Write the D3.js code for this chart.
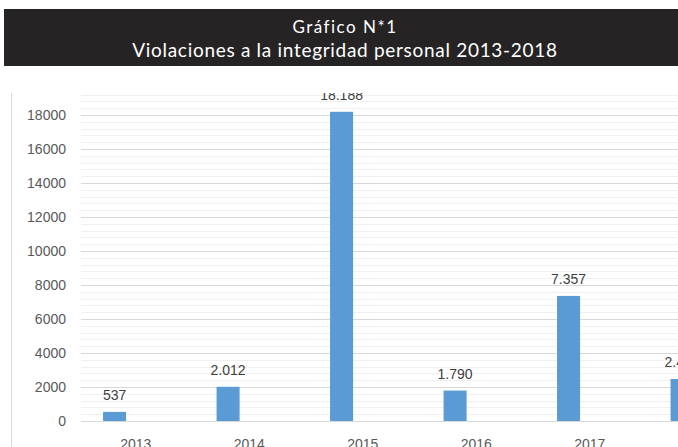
<!DOCTYPE html>
<html>
<head>
<meta charset="utf-8">
<script src="https://cdn.jsdelivr.net/npm/d3@7"></script>
<style>
  body { margin: 0; background: #fff; }
  svg { display: block; }
</style>
</head>
<body>
<div id="chart"></div>
<script>
var years = ["2013", "2014", "2015", "2016", "2017", "2018"];
var casos = [537, 2012, 18188, 1790, 7357, 2470];
var yTicks = [0, 2000, 4000, 6000, 8000, 10000, 12000, 14000, 16000, 18000];
var titleLines = ["Gráfico N*1", "Violaciones a la integridad personal 2013-2018"];

var W = 678, H = 447;
var margin = { top: 93, left: 79, bottom: 26 };

var svg = d3.select("#chart").append("svg")
  .attr("width", W)
  .attr("height", H);

// title band
svg.append("rect")
  .attr("x", 4).attr("y", 9)
  .attr("width", W - 4).attr("height", 57)
  .attr("fill", "#262324");

var tStyle = [
  { y: 33, size: 17, ls: 1.5 },
  { y: 57, size: 19, ls: 0.7 }
];
svg.selectAll(".title")
  .data(titleLines)
  .enter().append("text")
  .attr("class", "title")
  .attr("x", 345)
  .attr("y", function(d, i) { return tStyle[i].y; })
  .attr("text-anchor", "middle")
  .attr("fill", "#fff")
  .attr("font-family", "Lato, sans-serif")
  .attr("font-size", function(d, i) { return tStyle[i].size; })
  .attr("letter-spacing", function(d, i) { return tStyle[i].ls; })
  .text(function(d) { return d; });

// chart area (cropped)
svg.append("clipPath").attr("id", "clip")
  .append("rect")
  .attr("x", 0).attr("y", margin.top)
  .attr("width", W).attr("height", H - margin.top);

var g = svg.append("g").attr("clip-path", "url(#clip)");

g.append("line")
  .attr("x1", 11.5).attr("x2", 11.5)
  .attr("y1", margin.top).attr("y2", H)
  .attr("stroke", "#d9d9d9");

var x = d3.scaleBand()
  .domain(years)
  .range([margin.left, margin.left + 113.5 * years.length]);

var y = d3.scaleLinear()
  .domain([0, 18000])
  .range([421, 115]);

// minor gridlines every 400
var minor = d3.range(400, 20000, 400).filter(function(v) { return v % 2000 != 0; });
g.selectAll(".minor")
  .data(minor)
  .enter().append("line")
  .attr("x1", 81).attr("x2", W)
  .attr("y1", function(d) { return Math.round(y(d)) + 0.5; })
  .attr("y2", function(d) { return Math.round(y(d)) + 0.5; })
  .attr("stroke", "#f0f0f0");

g.selectAll(".major")
  .data(yTicks)
  .enter().append("line")
  .attr("x1", 81).attr("x2", W)
  .attr("y1", function(d) { return Math.round(y(d)) + 0.5; })
  .attr("y2", function(d) { return Math.round(y(d)) + 0.5; })
  .attr("stroke", "#d9d9d9");

g.selectAll(".ylab")
  .data(yTicks)
  .enter().append("text")
  .attr("x", 66)
  .attr("y", function(d) { return y(d) + 5; })
  .attr("text-anchor", "end")
  .attr("fill", "#595959")
  .attr("font-family", "'Liberation Sans', Arial, sans-serif")
  .attr("font-size", 14)
  .text(function(d) { return d; });

var data = years.map(function(yr, i) { return { year: yr, value: casos[i] }; });

// bars sit left of the category centre (second series slot is empty)
var barOff = x.bandwidth() * 0.212, barW = x.bandwidth() * 0.203;

g.selectAll(".bar")
  .data(data)
  .enter().append("rect")
  .attr("x", function(d) { return x(d.year) + barOff; })
  .attr("y", function(d) { return y(d.value); })
  .attr("width", barW)
  .attr("height", function(d) { return y(0) - y(d.value); })
  .attr("fill", "#5b9bd5");

g.selectAll(".val")
  .data(data)
  .enter().append("text")
  .attr("x", function(d) { return x(d.year) + barOff + barW / 2; })
  .attr("y", function(d) { return y(d.value) - 12; })
  .attr("text-anchor", "middle")
  .attr("fill", "#404040")
  .attr("font-family", "'Liberation Sans', Arial, sans-serif")
  .attr("font-size", 14)
  .text(function(d) { return d3.format(",")(d.value).replace(/,/g, "."); });

g.selectAll(".xlab")
  .data(years)
  .enter().append("text")
  .attr("x", function(d) { return x(d) + x.bandwidth() / 2; })
  .attr("y", 449)
  .attr("text-anchor", "middle")
  .attr("fill", "#595959")
  .attr("font-family", "'Liberation Sans', Arial, sans-serif")
  .attr("font-size", 14)
  .text(function(d) { return d; });
</script>
</body>
</html>
